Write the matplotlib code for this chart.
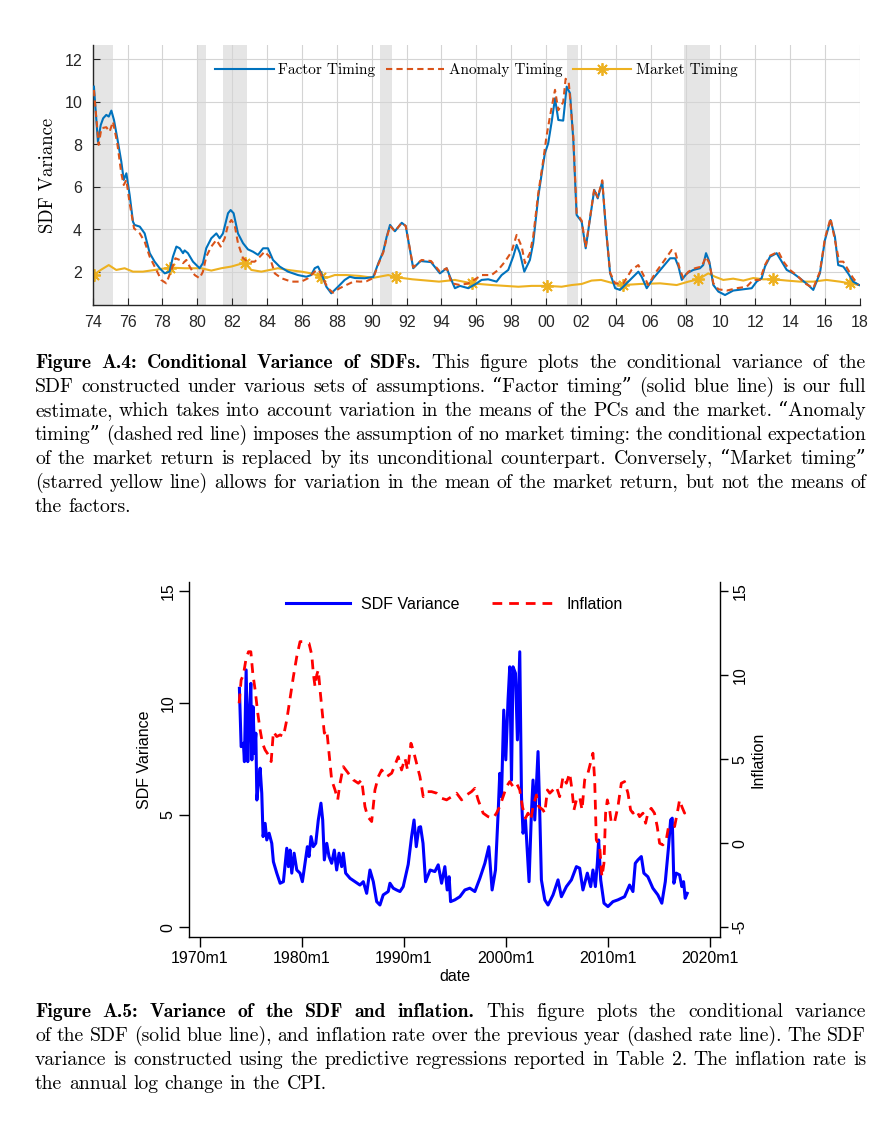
import numpy as np
import matplotlib
matplotlib.use('Agg')
import matplotlib.pyplot as plt

plt.rcParams['font.family'] = ['Liberation Sans', 'DejaVu Sans']
plt.rcParams['axes.formatter.use_mathtext'] = True

# ---- Figure A.4 data (decimal years, SDF variance) ----
ft_year = [1974.07, 1974.3, 1974.46, 1974.6, 1974.78, 1974.92, 1975.07, 1975.22, 1975.41, 1975.64,
           1975.78, 1975.93, 1976.12, 1976.31, 1976.4, 1976.7, 1976.98, 1977.27, 1977.55, 1977.84,
           1978.13, 1978.41, 1978.6, 1978.8, 1978.99, 1979.18, 1979.27, 1979.46, 1979.75, 1980.13,
           1980.32, 1980.51, 1980.8, 1981.09, 1981.28, 1981.47, 1981.76, 1981.91, 1982.08, 1982.33,
           1982.62, 1982.9, 1983.19, 1983.48, 1983.77, 1984.05, 1984.34, 1984.72, 1985.2, 1985.77,
           1986.25, 1986.53, 1986.73, 1986.92, 1987.11, 1987.4, 1987.68, 1988.07, 1988.45, 1988.74,
           1989.04, 1989.61, 1990.09, 1990.38, 1990.66, 1990.86, 1991.05, 1991.33, 1991.72, 1991.95,
           1992.38, 1992.8, 1993.4, 1993.91, 1994.3, 1994.49, 1994.77, 1995.06, 1995.54, 1996.02,
           1996.3, 1996.68, 1997.16, 1997.45, 1997.83, 1998.11, 1998.31, 1998.5, 1998.75, 1999.07,
           1999.26, 1999.55, 1999.75, 1999.93, 2000.12, 2000.32, 2000.51, 2000.7, 2000.98, 2001.18,
           2001.37, 2001.56, 2001.75, 2002.04, 2002.27, 2002.51, 2002.76, 2002.96, 2003.22, 2003.42,
           2003.67, 2003.96, 2004.24, 2004.62, 2005.0, 2005.29, 2005.48, 2005.77, 2006.15, 2006.63,
           2007.11, 2007.4, 2007.59, 2007.78, 2008.07, 2008.44, 2008.82, 2009.01, 2009.17, 2009.36,
           2009.59, 2009.88, 2010.26, 2010.73, 2011.31, 2011.79, 2012.07, 2012.36, 2012.55, 2012.84,
           2013.22, 2013.51, 2013.8, 2014.17, 2014.55, 2015.03, 2015.32, 2015.7, 2015.99, 2016.31,
           2016.56, 2016.75, 2017.04, 2017.32, 2017.61, 2017.95]
ft_val = [10.71, 8.12, 8.9, 9.22, 9.38, 9.3, 9.58, 9.14, 8.28, 7.18,
          6.32, 6.63, 5.6, 4.35, 4.2, 4.12, 3.8, 2.87, 2.47, 2.16,
          1.92, 2.0, 2.7, 3.18, 3.1, 2.87, 3.0, 2.87, 2.47, 2.16,
          2.4, 3.1, 3.57, 3.8, 3.57, 3.8, 4.75, 4.9, 4.75, 3.8,
          3.34, 3.05, 2.94, 2.79, 3.1, 3.1, 2.55, 2.24, 2.0, 1.84,
          1.76, 1.84, 2.16, 2.24, 1.92, 1.29, 0.98, 1.29, 1.61, 1.76,
          1.7, 1.69, 1.75, 2.4, 2.94, 3.65, 4.2, 3.9, 4.3, 4.15,
          2.16, 2.5, 2.45, 1.92, 2.16, 1.76, 1.22, 1.33, 1.22, 1.45,
          1.61, 1.64, 1.53, 1.84, 2.08, 2.7, 3.26, 2.87, 2.0, 2.55,
          3.34, 5.53, 6.63, 7.57, 8.04, 9.06, 10.16, 9.14, 9.11, 10.71,
          10.4, 8.2, 4.67, 4.35, 3.1, 4.43, 5.85, 5.45, 6.24, 4.12,
          1.92, 1.22, 1.14, 1.45, 1.76, 2.0, 1.76, 1.22, 1.69, 2.16,
          2.63, 2.63, 2.24, 1.61, 1.92, 2.08, 2.16, 2.31, 2.87, 2.47,
          1.37, 1.06, 0.9, 1.11, 1.17, 1.22, 1.53, 1.69, 2.24, 2.7,
          2.87, 2.47, 2.08, 1.92, 1.69, 1.37, 1.14, 1.92, 3.49, 4.43,
          3.65, 2.31, 2.24, 1.92, 1.53, 1.37]

at_year = [1974.07, 1974.34, 1974.5, 1974.78, 1974.97, 1975.16, 1975.41, 1975.64, 1975.78, 1975.93,
           1976.12, 1976.37, 1976.7, 1976.98, 1977.27, 1977.65, 1977.93, 1978.22, 1978.51, 1978.74,
           1978.99, 1979.18, 1979.37, 1979.56, 1979.85, 1980.13, 1980.32, 1980.51, 1980.8, 1981.09,
           1981.34, 1981.57, 1981.76, 1981.95, 1982.14, 1982.33, 1982.62, 1982.9, 1983.29, 1983.58,
           1983.86, 1984.15, 1984.44, 1984.82, 1985.39, 1985.96, 1986.35, 1986.73, 1986.96, 1987.2,
           1987.49, 1987.78, 1988.16, 1988.54, 1989.0, 1989.33, 1989.7, 1990.09, 1990.38, 1990.66,
           1990.86, 1991.05, 1991.33, 1991.72, 1991.95, 1992.38, 1992.86, 1993.4, 1993.91, 1994.3,
           1994.59, 1995.06, 1995.54, 1996.02, 1996.3, 1996.87, 1997.25, 1997.64, 1998.02, 1998.31,
           1998.6, 1998.79, 1999.07, 1999.26, 1999.55, 1999.84, 2000.02, 2000.22, 2000.51, 2000.7,
           2000.98, 2001.12, 2001.3, 2001.56, 2001.75, 2002.04, 2002.27, 2002.51, 2002.76, 2002.96,
           2003.22, 2003.42, 2003.67, 2003.96, 2004.43, 2004.9, 2005.29, 2005.58, 2005.86, 2006.25,
           2006.73, 2007.2, 2007.4, 2007.68, 2007.87, 2008.16, 2008.54, 2008.92, 2009.17, 2009.36,
           2009.59, 2009.88, 2010.36, 2010.93, 2011.5, 2011.88, 2012.26, 2012.55, 2012.84, 2013.32,
           2013.61, 2013.98, 2014.36, 2014.84, 2015.32, 2015.7, 2015.99, 2016.31, 2016.56, 2016.81,
           2017.04, 2017.32, 2017.61, 2017.9]
at_val = [10.55, 7.97, 8.75, 8.8, 8.59, 9.06, 8.04, 6.63, 6.08, 6.32,
          5.22, 4.04, 3.8, 3.41, 2.7, 2.08, 1.61, 1.45, 2.08, 2.63,
          2.55, 2.4, 2.55, 2.24, 1.84, 1.69, 2.0, 2.7, 3.18, 3.49,
          3.18, 3.57, 4.2, 4.43, 4.2, 3.34, 2.63, 2.47, 2.47, 2.7,
          2.94, 2.7, 1.92, 1.69, 1.53, 1.53, 1.69, 2.0, 2.08, 1.69,
          1.22, 1.01, 1.22, 1.37, 1.55, 1.53, 1.55, 1.7, 2.35, 2.9,
          3.6, 4.15, 3.9, 4.3, 4.15, 2.2, 2.55, 2.5, 2.0, 2.16,
          1.45, 1.37, 1.45, 1.69, 1.84, 1.84, 2.08, 2.47, 2.94, 3.73,
          3.18, 2.4, 2.87, 3.65, 5.69, 7.26, 8.36, 9.3, 10.56, 9.6,
          9.98, 11.08, 10.9, 8.36, 4.75, 4.4, 3.15, 4.5, 5.9, 5.5,
          6.3, 4.15, 1.95, 1.45, 1.45, 2.08, 2.31, 1.84, 1.37, 1.92,
          2.47, 3.02, 2.94, 2.08, 1.69, 2.0, 2.16, 2.24, 2.7, 2.4,
          1.45, 1.17, 1.11, 1.22, 1.29, 1.61, 1.61, 2.31, 2.75, 2.94,
          2.47, 2.08, 1.84, 1.45, 1.22, 2.0, 3.57, 4.51, 3.49, 2.47,
          2.47, 2.08, 1.69, 1.37]

mt_year = [1974.07, 1974.46, 1974.92, 1975.35, 1975.83, 1976.31, 1976.88, 1977.55, 1978.41, 1979.27,
           1980.23, 1980.8, 1981.37, 1981.95, 1982.71, 1983.1, 1983.67, 1984.15, 1984.62, 1985.2,
           1985.96, 1986.53, 1987.11, 1987.49, 1987.88, 1988.54, 1989.3, 1990.09, 1990.95, 1991.37,
           1992.33, 1993.86, 1994.77, 1995.73, 1996.88, 1998.41, 1999.17, 2000.07, 2000.89, 2001.47,
           2002.04, 2002.61, 2003.15, 2003.87, 2004.43, 2005.39, 2006.54, 2007.49, 2008.16, 2008.73,
           2009.3, 2009.69, 2010.16, 2010.73, 2011.31, 2011.88, 2012.45, 2013.03, 2013.8, 2014.55,
           2015.32, 2016.08, 2016.84, 2017.41, 2017.95]
mt_val = [1.84, 2.08, 2.31, 2.08, 2.16, 2.0, 2.0, 2.08, 2.19, 2.16,
          2.16, 2.05, 2.16, 2.24, 2.42, 2.08, 2.0, 2.08, 2.16, 2.08,
          2.0, 1.92, 1.76, 1.73, 1.84, 1.84, 1.8, 1.71, 1.84, 1.74,
          1.64, 1.53, 1.61, 1.45, 1.37, 1.29, 1.33, 1.33, 1.29, 1.37,
          1.42, 1.58, 1.61, 1.45, 1.37, 1.42, 1.45, 1.37, 1.53, 1.64,
          1.92, 1.76, 1.61, 1.67, 1.58, 1.7, 1.64, 1.64, 1.58, 1.53,
          1.53, 1.61, 1.53, 1.45, 1.37]
mt_star_year = [1974.07, 1978.41, 1982.71, 1987.11, 1991.37, 1995.73, 2000.07, 2004.43, 2008.73,
                2013.03, 2017.41]

recessions = [(1973.83, 1975.17), (1980.0, 1980.5), (1981.5, 1982.83), (1990.5, 1991.17),
              (2001.17, 2001.83), (2007.92, 2009.42)]

# ---- Figure A.5 data ----
sdf_year = [1973.91, 1974.08, 1974.3, 1974.4, 1974.57, 1974.73, 1974.89, 1975.03, 1975.13, 1975.25,
            1975.38, 1975.52, 1975.62, 1975.77, 1975.94, 1976.1, 1976.23, 1976.43, 1976.59, 1976.82,
            1977.08, 1977.24, 1977.57, 1977.9, 1978.22, 1978.55, 1978.71, 1978.87, 1979.04, 1979.27,
            1979.53, 1979.85, 1980.08, 1980.34, 1980.57, 1980.73, 1980.93, 1981.15, 1981.39, 1981.64,
            1981.9, 1982.07, 1982.23, 1982.47, 1982.69, 1982.95, 1983.21, 1983.44, 1983.67, 1983.93,
            1984.09, 1984.32, 1984.75, 1985.23, 1985.72, 1986.05, 1986.38, 1986.7, 1987.03, 1987.36,
            1987.68, 1988.0, 1988.49, 1988.66, 1988.98, 1989.31, 1989.64, 1989.96, 1990.45, 1990.78,
            1991.02, 1991.24, 1991.5, 1991.66, 1991.9, 1992.15, 1992.6, 1993.06, 1993.39, 1993.72,
            1994.04, 1994.27, 1994.46, 1994.6, 1995.02, 1995.51, 1996.0, 1996.49, 1996.98, 1997.47,
            1997.96, 1998.35, 1998.67, 1999.0, 1999.26, 1999.42, 1999.59, 1999.81, 2000.01, 2000.23,
            2000.4, 2000.57, 2000.72, 2000.96, 2001.15, 2001.38, 2001.55, 2001.7, 2001.94, 2002.13,
            2002.29, 2002.52, 2002.68, 2002.85, 2003.01, 2003.17, 2003.34, 2003.5, 2003.83, 2004.15,
            2004.64, 2005.13, 2005.46, 2005.95, 2006.44, 2006.93, 2007.25, 2007.57, 2008.0, 2008.33,
            2008.55, 2008.79, 2008.98, 2009.11, 2009.31, 2009.63, 2010.02, 2010.51, 2011.0, 2011.65,
            2012.14, 2012.47, 2012.7, 2012.96, 2013.29, 2013.54, 2013.93, 2014.42, 2014.91, 2015.3,
            2015.64, 2015.96, 2016.16, 2016.32, 2016.48, 2016.71, 2017.04, 2017.26, 2017.43, 2017.59,
            2017.79]
sdf_val = [10.65, 8.05, 8.2, 7.38, 11.47, 7.38, 9.54, 10.87, 7.46, 9.83,
           7.75, 8.65, 5.67, 6.42, 7.09, 5.97, 4.04, 4.63, 3.89, 4.19,
           3.74, 2.92, 2.41, 1.96, 2.03, 3.52, 2.7, 3.44, 2.41, 3.3,
           2.55, 2.41, 2.03, 2.85, 3.59, 3.15, 4.04, 3.59, 3.74, 4.78,
           5.53, 4.78, 3.0, 3.74, 3.15, 2.85, 3.44, 2.55, 3.3, 2.7,
           3.3, 2.41, 2.18, 2.03, 1.88, 2.03, 1.51, 2.55, 2.03, 1.14,
           0.99, 1.44, 1.59, 1.96, 1.74, 1.66, 1.59, 1.81, 2.8, 4.04,
           4.78, 3.59, 4.45, 4.48, 3.74, 2.03, 2.55, 2.48, 2.78, 1.96,
           2.7, 1.66, 2.25, 1.14, 1.22, 1.36, 1.66, 1.74, 1.59, 2.18,
           2.85, 3.59, 1.66, 2.55, 5.08, 6.86, 5.82, 9.68, 7.46, 10.13,
           11.61, 6.56, 11.61, 11.32, 8.35, 12.28, 5.82, 4.19, 4.78, 3.3,
           2.03, 5.08, 6.56, 4.78, 6.27, 7.83, 5.08, 2.11, 1.22, 0.99,
           1.44, 2.11, 1.36, 1.81, 2.11, 2.7, 2.63, 1.66, 2.41, 1.81,
           2.55, 1.81, 2.85, 3.89, 2.11, 1.07, 0.92, 1.14, 1.22, 1.36,
           1.88, 1.59, 2.85, 3.0, 3.15, 2.41, 2.25, 1.74, 1.44, 1.07,
           2.03, 3.59, 4.78, 4.86, 1.96, 2.41, 2.33, 1.81, 2.03, 1.29,
           1.51]

infl_year = [1973.88, 1974.08, 1974.3, 1974.54, 1974.8, 1975.03, 1975.22, 1975.45, 1975.71, 1975.94,
             1976.17, 1976.43, 1976.75, 1977.02, 1977.24, 1977.57, 1977.9, 1978.22, 1978.55, 1978.87,
             1979.2, 1979.53, 1979.85, 1980.18, 1980.73, 1981.0, 1981.15, 1981.32, 1981.49, 1981.64,
             1981.81, 1982.04, 1982.23, 1982.47, 1982.69, 1982.95, 1983.28, 1983.54, 1983.77, 1984.09,
             1984.58, 1985.07, 1985.56, 1985.89, 1986.21, 1986.48, 1986.87, 1987.19, 1987.52, 1987.85,
             1988.34, 1988.83, 1989.15, 1989.47, 1989.8, 1990.13, 1990.39, 1990.72, 1990.94, 1991.27,
             1991.6, 1991.92, 1992.25, 1992.74, 1993.23, 1993.72, 1994.21, 1994.7, 1995.19, 1995.68,
             1996.16, 1996.65, 1996.98, 1997.3, 1997.79, 1998.28, 1998.77, 1999.1, 1999.42, 1999.75,
             2000.08, 2000.4, 2000.72, 2001.06, 2001.38, 2001.64, 2001.94, 2002.19, 2002.46, 2002.68,
             2003.01, 2003.24, 2003.66, 2003.83, 2004.09, 2004.32, 2004.64, 2004.97, 2005.29, 2005.62,
             2005.95, 2006.27, 2006.5, 2006.69, 2006.93, 2007.25, 2007.48, 2007.74, 2008.06, 2008.39,
             2008.55, 2008.72, 2008.88, 2009.21, 2009.43, 2009.63, 2009.79, 2009.96, 2010.19, 2010.35,
             2010.68, 2011.0, 2011.33, 2011.65, 2011.98, 2012.24, 2012.47, 2012.8, 2013.12, 2013.45,
             2013.71, 2013.93, 2014.26, 2014.58, 2014.85, 2015.08, 2015.4, 2015.73, 2015.96, 2016.22,
             2016.55, 2016.81, 2017.04, 2017.26, 2017.53, 2017.79]
infl_val = [8.33, 9.72, 10.02, 10.91, 11.4, 11.4, 10.12, 9.13, 7.74, 6.74,
            5.95, 5.55, 5.26, 4.86, 6.64, 6.35, 6.45, 6.35, 7.34, 8.63,
            9.92, 11.11, 12.0, 12.0, 11.9, 11.21, 10.12, 9.32, 10.02, 10.32,
            9.13, 7.74, 6.55, 6.74, 5.36, 3.77, 3.17, 2.58, 3.57, 4.56,
            4.17, 3.77, 3.57, 3.77, 2.18, 1.58, 1.29, 3.17, 3.96, 4.36,
            3.96, 4.17, 4.66, 5.15, 4.36, 5.06, 4.36, 5.95, 5.55, 4.76,
            3.96, 2.77, 3.07, 3.07, 2.98, 2.68, 2.58, 2.77, 2.98, 2.58,
            2.87, 3.07, 3.27, 2.58, 1.79, 1.58, 1.49, 1.79, 2.18, 2.77,
            3.37, 3.67, 3.37, 3.57, 3.17, 2.18, 1.49, 1.79, 1.39, 2.18,
            2.87, 2.18, 1.98, 1.79, 3.17, 2.98, 3.17, 3.37, 2.77, 3.96,
            3.57, 4.17, 3.17, 1.98, 2.58, 2.77, 1.98, 3.77, 4.17, 4.96,
            5.36, 3.77, 0.2, -0.2, -2.0, -1.19, 1.79, 2.58, 1.98, 1.19,
            1.29, 2.18, 3.57, 3.67, 2.98, 1.98, 1.79, 1.98, 1.58, 1.79,
            1.19, 1.79, 2.08, 1.79, 0.99, 0.0, -0.1, 0.2, 0.99, 0.99,
            0.99, 1.79, 2.58, 2.18, 1.79, 2.18]

cap4_lines = [
    "Figure A.4: Conditional Variance of SDFs. This figure plots the conditional variance of the",
    "SDF constructed under various sets of assumptions. \u201cFactor timing\u201d (solid blue line) is our full",
    "estimate, which takes into account variation in the means of the PCs and the market. \u201cAnomaly",
    "timing\u201d (dashed red line) imposes the assumption of no market timing: the conditional expectation",
    "of the market return is replaced by its unconditional counterpart. Conversely, \u201cMarket timing\u201d",
    "(starred yellow line) allows for variation in the mean of the market return, but not the means of",
    "the factors.",
]
cap5_lines = [
    "Figure A.5: Variance of the SDF and inflation. This figure plots the conditional variance",
    "of the SDF (solid blue line), and inflation rate over the previous year (dashed rate line). The SDF",
    "variance is constructed using the predictive regressions reported in Table 2. The inflation rate is",
    "the annual log change in the CPI.",
]

W, H = 889, 1123
fig = plt.figure(figsize=(W / 100, H / 100), dpi=100)

# ---------------- top chart ----------------
ax = fig.add_axes([92.7 / W, 1 - 305 / H, (860 - 92.7) / W, (305 - 45) / H])
for a, b in recessions:
    ax.axvspan(a, b, color='#e5e5e5', lw=0, zorder=0.2)
l1, = ax.plot(ft_year, ft_val, color='#0072BD', lw=1.5, label='Factor Timing', zorder=3)
l2, = ax.plot(at_year, at_val, color='#D95319', lw=1.5, ls=(0, (3, 2)), label='Anomaly Timing', zorder=4)
star_idx = [mt_year.index(y) for y in mt_star_year]
l3, = ax.plot(mt_year, mt_val, color='#EDB120', lw=1.5, marker=(8, 2, 0), markersize=9,
              markeredgewidth=1.3, markevery=star_idx, label='Market Timing', zorder=2)
ax.set_xlim(1974, 2018)
ax.set_ylim(0.43, 12.67)
xt = list(range(1974, 2019, 2))
ax.set_xticks(xt)
ax.set_xticklabels([f"{y % 100:02d}" for y in xt])
ax.set_yticks([2, 4, 6, 8, 10, 12])
ax.grid(True, color='#d4d4d4', lw=0.8)
ax.set_axisbelow(True)
for s in ['top', 'right']:
    ax.spines[s].set_visible(False)
for s in ['left', 'bottom']:
    ax.spines[s].set_color('#262626')
    ax.spines[s].set_linewidth(1.0)
ax.tick_params(direction='in', length=5, width=0.8, color='#262626', labelsize=11.5,
               labelcolor='#262626', pad=7)
ax.set_ylabel('SDF Variance', family='cmr10', fontsize=13.5, labelpad=5)
ax.legend(handles=[l1, l2, l3], loc='upper center', ncol=3, frameon=False,
          prop={'family': 'cmr10', 'size': 11}, handlelength=3.8, handletextpad=0.3,
          columnspacing=0.7, bbox_to_anchor=(0.5, 0.965), borderaxespad=0.2)

# ---------------- bottom chart ----------------
bx = fig.add_axes([189.3 / W, 1 - 937.3 / H, (720 - 189.3) / W, (937.3 - 582) / H])
bx2 = bx.twinx()
p1, = bx.plot(sdf_year, sdf_val, color='#0000FF', lw=2.2, label='SDF Variance')
p2, = bx2.plot(infl_year, infl_val, color='#FF0000', lw=2.0, ls=(0, (3.5, 2.5)), label='Inflation')
bx.set_xlim(1969.0, 2021.0)
bx.set_ylim(-0.45, 15.39)
bx2.set_ylim(-5.6, 15.55)
bx.set_xticks([1970, 1980, 1990, 2000, 2010, 2020])
bx.set_xticklabels(['1970m1', '1980m1', '1990m1', '2000m1', '2010m1', '2020m1'])
bx.set_yticks([0, 5, 10, 15])
bx.set_yticklabels(['0', '5', '10', '15'], rotation=90, va='center')
bx2.set_yticks([-5, 0, 5, 10, 15])
bx2.set_yticklabels(['-5', '0', '5', '10', '15'], rotation=90, va='center')
for a in (bx, bx2):
    a.spines['top'].set_visible(False)
    for s in a.spines.values():
        s.set_linewidth(1.0)
bx.spines['right'].set_visible(False)
bx2.spines['left'].set_visible(False)
bx2.spines['bottom'].set_visible(False)
bx.tick_params(axis='both', direction='out', length=7, width=1.0, labelsize=11.5, pad=3)
bx2.tick_params(axis='y', direction='out', length=6, width=1.0, labelsize=11.5, pad=3)
bx.set_ylabel('SDF Variance', fontsize=11.5, labelpad=6)
bx2.set_ylabel('Inflation', fontsize=11.5, labelpad=2)
bx.set_xlabel('date', fontsize=11.5, labelpad=2)
bx.legend(handles=[p1, p2], loc='upper center', ncol=2, frameon=False, fontsize=11.5,
          handlelength=4.0, handletextpad=0.7, columnspacing=2.0,
          bbox_to_anchor=(0.5, 0.99), borderaxespad=0.3)


# ---------------- captions (justified) ----------------
def justified(lines, baselines, nbold, size, left=35, right=866):
    r = fig.canvas.get_renderer()
    for i, (line, yb) in enumerate(zip(lines, baselines)):
        words = line.split(' ')
        texts = []
        for j, w in enumerate(words):
            bold = i == 0 and j < nbold
            if w.isascii():
                fam = 'cmb10' if bold else 'cmr10'
            else:
                fam = ['cmb10' if bold else 'cmr10', 'DejaVu Serif']
            texts.append(fig.text(0, 1 - yb / H, w, family=fam, fontsize=size, va='baseline', ha='left'))
        widths = [t.get_window_extent(r).width for t in texts]
        if i < len(lines) - 1 and len(words) > 1:
            gap = (right - left - sum(widths)) / (len(words) - 1)
        else:
            gap = size * 100 / 72 * 0.33
        x = left
        for t, w in zip(texts, widths):
            t.set_x(x / W)
            x += w + gap


fig.canvas.draw()
justified(cap4_lines, [368 + 24 * k for k in range(7)], 6, 14.2)
justified(cap5_lines, [1017 + 24 * k for k in range(4)], 8, 14.2)

fig.savefig('out.png', dpi=100)
